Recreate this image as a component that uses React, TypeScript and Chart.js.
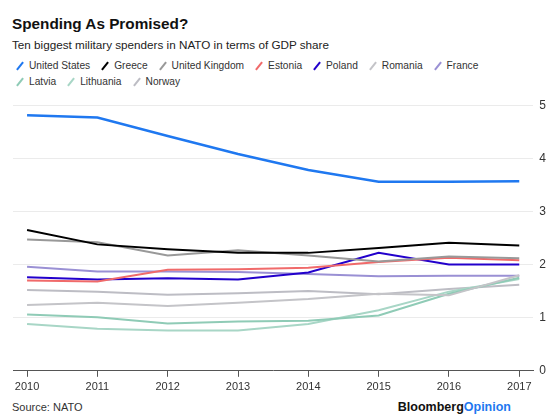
import React, { useEffect, useRef } from "react";
import { Chart, registerables } from "chart.js";

Chart.register(...registerables);

const years = [2010, 2011, 2012, 2013, 2014, 2015, 2016, 2017];
const yTicks = [0, 1, 2, 3, 4, 5];

const countries = [
  "United States",
  "Greece",
  "United Kingdom",
  "Estonia",
  "Poland",
  "Romania",
  "France",
  "Latvia",
  "Lithuania",
  "Norway",
];

const unitedStates = [4.81, 4.77, 4.42, 4.08, 3.78, 3.56, 3.56, 3.57];
const greece = [2.65, 2.38, 2.29, 2.22, 2.22, 2.31, 2.41, 2.36];
const unitedKingdom = [2.47, 2.42, 2.17, 2.27, 2.17, 2.06, 2.15, 2.12];
const estonia = [1.7, 1.68, 1.9, 1.91, 1.94, 2.05, 2.13, 2.08];
const poland = [1.76, 1.72, 1.74, 1.72, 1.85, 2.22, 2.0, 2.0];
const romania = [1.24, 1.28, 1.22, 1.28, 1.35, 1.45, 1.42, 1.8];
const france = [1.96, 1.87, 1.87, 1.86, 1.82, 1.78, 1.79, 1.79];
const latvia = [1.06, 1.01, 0.89, 0.93, 0.94, 1.04, 1.45, 1.75];
const lithuania = [0.88, 0.79, 0.76, 0.76, 0.88, 1.14, 1.49, 1.73];
const norway = [1.52, 1.49, 1.43, 1.46, 1.5, 1.44, 1.54, 1.62];

const seriesValues = [
  unitedStates,
  greece,
  unitedKingdom,
  estonia,
  poland,
  romania,
  france,
  latvia,
  lithuania,
  norway,
];

const colors = [
  "#1f78f0",
  "#000000",
  "#999999",
  "#f06a6a",
  "#2200cc",
  "#c4c4c8",
  "#9a90d4",
  "#8fcbb6",
  "#a8d6c6",
  "#bdbdc4",
];

const FONT = "'Liberation Sans', Arial, sans-serif";

function LegendItem({ name, color }: { name: string; color: string }) {
  return (
    <span style={{ display: "inline-flex", alignItems: "center", marginRight: 9 }}>
      <span
        style={{
          display: "inline-block",
          width: 2,
          height: 10,
          background: color,
          transform: "rotate(38deg)",
          marginLeft: 5,
          marginRight: 8,
        }}
      />
      <span>{name}</span>
    </span>
  );
}

export default function App() {
  const canvasRef = useRef<HTMLCanvasElement | null>(null);

  useEffect(() => {
    const canvas = canvasRef.current;
    if (!canvas) return;
    const chart = new Chart(canvas, {
      type: "line",
      data: {
        labels: years,
        datasets: countries.map((name, i) => ({
          label: name,
          data: seriesValues[i],
          borderColor: colors[i],
          backgroundColor: colors[i],
          borderWidth: i === 0 ? 2.5 : 2,
          pointRadius: 0,
          tension: 0,
          fill: false,
        })),
      },
      options: {
        animation: false,
        responsive: false,
        maintainAspectRatio: false,
        layout: { padding: { left: 13, right: 8, top: 10, bottom: 0 } },
        plugins: {
          legend: { display: false },
          tooltip: { enabled: false },
          title: { display: false },
        },
        scales: {
          x: {
            type: "linear",
            min: 2009.8,
            max: 2017.2,
            afterBuildTicks: (scale: any) => {
              scale.ticks = years.map((v) => ({ value: v }));
            },
            grid: {
              display: true,
              drawOnChartArea: false,
              drawTicks: true,
              tickLength: 6,
              color: "#555555",
            },
            border: { display: true, color: "#555555", width: 1 },
            ticks: {
              callback: (v: any) => String(v),
              color: "#333333",
              font: { size: 11, family: FONT },
              padding: 4,
              maxRotation: 0,
              autoSkip: false,
            },
          },
          y: {
            position: "right",
            min: 0,
            max: 5,
            afterBuildTicks: (scale: any) => {
              scale.ticks = yTicks.map((v) => ({ value: v }));
            },
            grid: {
              color: (ctx: any) => (ctx.tick && ctx.tick.value === 0 ? "rgba(0,0,0,0)" : "#ebebeb"),
              drawTicks: false,
            },
            border: { display: false },
            ticks: {
              color: "#333333",
              font: { size: 12, family: FONT },
              padding: 6,
            },
          },
        },
      },
    });
    return () => chart.destroy();
  }, []);

  return (
    <div
      style={{
        position: "fixed",
        left: 0,
        top: 0,
        width: 560,
        height: 420,
        background: "#ffffff",
        fontFamily: FONT,
        color: "#222",
        overflow: "hidden",
      }}
    >
      <div style={{ position: "absolute", left: 12, top: 14, fontSize: 15.3, fontWeight: 700, lineHeight: "20px", color: "#111" }}>
        Spending As Promised?
      </div>
      <div style={{ position: "absolute", left: 12, top: 37, fontSize: 11.7, lineHeight: "16px", color: "#222" }}>
        Ten biggest military spenders in NATO in terms of GDP share
      </div>
      <div style={{ position: "absolute", left: 14, top: 59, fontSize: 10.2, lineHeight: "14px", color: "#333", width: 540 }}>
        <div style={{ whiteSpace: "nowrap" }}>
          {countries.slice(0, 7).map((n, i) => (
            <LegendItem key={n} name={n} color={colors[i]} />
          ))}
        </div>
        <div style={{ whiteSpace: "nowrap" }}>
          {countries.slice(7).map((n, i) => (
            <LegendItem key={n} name={n} color={colors[i + 7]} />
          ))}
        </div>
      </div>
      <canvas
        ref={canvasRef}
        width={560}
        height={306}
        style={{ position: "absolute", left: 0, top: 92, width: 560, height: 306 }}
      />
      <div style={{ position: "absolute", left: 12, top: 400, fontSize: 11, lineHeight: "14px", color: "#333" }}>
        Source: NATO
      </div>
      <div style={{ position: "absolute", right: 49, top: 399, fontSize: 12.5, fontWeight: 700, lineHeight: "16px", color: "#111" }}>
        Bloomberg<span style={{ color: "#1f78f0" }}>Opinion</span>
      </div>
    </div>
  );
}
